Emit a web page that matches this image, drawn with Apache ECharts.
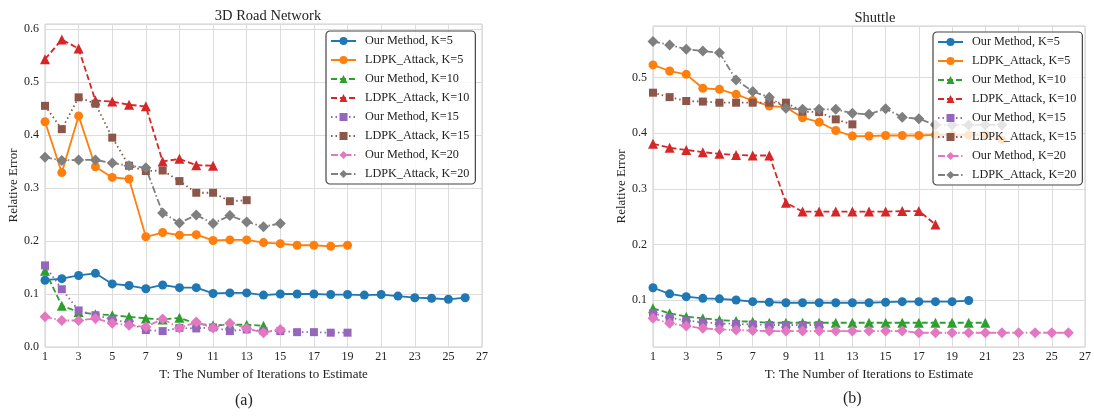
<!DOCTYPE html>
<html><head><meta charset="utf-8">
<script src="https://cdn.jsdelivr.net/npm/echarts@6/dist/echarts.min.js"></script>
<style>html,body{margin:0;padding:0;background:#fff}#c{width:1094px;height:416px}</style>
</head><body><div id="c"></div>
<script>
// ---- data ----
const seriesNames = ['Our Method, K=5','LDPK_Attack, K=5','Our Method, K=10','LDPK_Attack, K=10','Our Method, K=15','LDPK_Attack, K=15','Our Method, K=20','LDPK_Attack, K=20'];
const xTicks = [1,27,2];
// 3D Road Network (values start at T=1)
const roadOurK5  = [0.126,0.129,0.135,0.139,0.119,0.116,0.110,0.117,0.112,0.112,0.101,0.102,0.102,0.098,0.100,0.100,0.100,0.099,0.099,0.098,0.099,0.096,0.093,0.092,0.090,0.093];
const roadLdpkK5 = [0.425,0.329,0.436,0.340,0.320,0.317,0.208,0.216,0.211,0.212,0.201,0.202,0.202,0.197,0.195,0.192,0.192,0.190,0.192];
const roadOurK10 = [0.144,0.078,0.066,0.062,0.060,0.057,0.054,0.052,0.055,0.044,0.041,0.042,0.042,0.040];
const roadLdpkK10= [0.543,0.580,0.563,0.465,0.463,0.457,0.454,0.350,0.355,0.343,0.342];
const roadOurK15 = [0.154,0.109,0.069,0.060,0.052,0.045,0.032,0.030,0.036,0.035,0.037,0.030,0.033,0.030,0.030,0.028,0.028,0.027,0.027];
const roadLdpkK15= [0.455,0.411,0.471,0.459,0.395,0.342,0.332,0.333,0.313,0.291,0.291,0.275,0.277];
const roadOurK20 = [0.057,0.050,0.050,0.054,0.045,0.041,0.038,0.053,0.036,0.047,0.036,0.045,0.035,0.027,0.033];
const roadLdpkK20= [0.358,0.352,0.353,0.353,0.347,0.342,0.338,0.253,0.234,0.249,0.233,0.248,0.236,0.227,0.233];
// Shuttle
const shutOurK5  = [0.122,0.111,0.106,0.103,0.102,0.100,0.097,0.096,0.095,0.095,0.095,0.095,0.095,0.095,0.096,0.097,0.097,0.097,0.097,0.099];
const shutLdpkK5 = [0.523,0.512,0.506,0.481,0.479,0.470,0.459,0.449,0.447,0.428,0.420,0.405,0.395,0.395,0.396,0.396,0.396,0.397,0.397,0.397,0.397,0.388];
const shutOurK10 = [0.085,0.076,0.070,0.067,0.064,0.062,0.061,0.059,0.059,0.059,0.059,0.059,0.059,0.059,0.059,0.059,0.059,0.059,0.059,0.059,0.059];
const shutLdpkK10= [0.381,0.374,0.370,0.366,0.363,0.361,0.360,0.360,0.275,0.259,0.259,0.259,0.259,0.259,0.259,0.260,0.260,0.236];
const shutOurK15 = [0.076,0.068,0.063,0.060,0.058,0.057,0.056,0.055,0.055,0.055,0.055];
const shutLdpkK15= [0.473,0.465,0.458,0.457,0.455,0.455,0.455,0.455,0.455,0.439,0.438,0.425,0.416];
const shutOurK20 = [0.067,0.058,0.053,0.049,0.047,0.046,0.045,0.044,0.044,0.044,0.044,0.044,0.044,0.044,0.044,0.044,0.041,0.041,0.041,0.041,0.041,0.041,0.041,0.041,0.041,0.041];
const shutLdpkK20= [0.565,0.559,0.551,0.548,0.545,0.496,0.475,0.465,0.445,0.443,0.443,0.443,0.436,0.434,0.444,0.429,0.426,0.415,0.415,0.415,0.415,0.415];

const roadData = [roadOurK5,roadLdpkK5,roadOurK10,roadLdpkK10,roadOurK15,roadLdpkK15,roadOurK20,roadLdpkK20];
const shutData = [shutOurK5,shutLdpkK5,shutOurK10,shutLdpkK10,shutOurK15,shutLdpkK15,shutOurK20,shutLdpkK20];

// ---- styles ----
const colors = ['#1f77b4','#ff7f0e','#2ca02c','#d62728','#9467bd','#8c564b','#e377c2','#7f7f7f'];
const symbols = ['circle','circle','triangle','triangle','rect','rect','diamond','diamond'];
const symSizes = [9,9,10,10,8,8,11,11];
const dashes = ['solid','solid',[6,3],[6,3],[1.5,3],[1.5,3],[7,2.5,1.5,2.5],[7,2.5,1.5,2.5]];
const FONT = 'Liberation Serif';

function mkSeries(dataSets, gi){
  return dataSets.map((arr,i)=>({
    name: seriesNames[i], type:'line', xAxisIndex:gi, yAxisIndex:gi,
    data: arr.map((v,k)=>[k+1,v]),
    symbol: symbols[i], symbolSize: symSizes[i], showSymbol:true,
    color: colors[i],
    lineStyle:{color:colors[i], width:1.8, type:dashes[i]},
    itemStyle:{color:colors[i]},
    animation:false, silent:true
  }));
}
function xAx(gi){
  return {type:'value', gridIndex:gi, min:xTicks[0], max:xTicks[1], interval:xTicks[2],
    name:'T: The Number of Iterations to Estimate', nameLocation:'middle', nameGap:21,
    nameTextStyle:{fontFamily:FONT,fontSize:13,color:'#222'},
    axisLine:{show:false}, axisTick:{show:false},
    axisLabel:{fontFamily:FONT,fontSize:12,color:'#222',margin:4},
    splitLine:{show:true,lineStyle:{color:'#dcdcdc',width:1}}};
}
function mkLegend(left, top){
  return {data:seriesNames, orient:'vertical', left:left, top:top, padding:[3,6,3,4],
    itemWidth:25, itemHeight:10, itemGap:5,
    backgroundColor:'rgba(255,255,255,0.8)', borderColor:'#444', borderWidth:1.2, borderRadius:4,
    textStyle:{fontFamily:FONT,fontSize:12.2,color:'#222',lineHeight:14,padding:[0,0,0,4]}, selectedMode:false};
}
const option = {
  backgroundColor:'#fff',
  title:[
    {text:'3D Road Network', left:263, top:4, textAlign:'center', textStyle:{fontFamily:FONT,fontSize:14.5,fontWeight:'normal',color:'#222'}},
    {text:'Shuttle', left:870, top:6, textAlign:'center', textStyle:{fontFamily:FONT,fontSize:14.5,fontWeight:'normal',color:'#222'}}
  ],
  grid:[
    {left:45, top:24, width:437, height:323, show:true, borderColor:'#cfcfcf', borderWidth:1, backgroundColor:'transparent'},
    {left:653, top:26, width:433, height:321, show:true, borderColor:'#cfcfcf', borderWidth:1, backgroundColor:'transparent'}
  ],
  xAxis:[xAx(0), xAx(1)],
  yAxis:[
    {type:'value', gridIndex:0, min:0, max:0.6094, interval:0.1,
     name:'Relative Error', nameLocation:'middle', nameGap:25,
     nameTextStyle:{fontFamily:FONT,fontSize:13,color:'#222'},
     axisLine:{show:false}, axisTick:{show:false},
     axisLabel:{fontFamily:FONT,fontSize:12,color:'#222',margin:6,showMaxLabel:false, formatter:v=>v.toFixed(1)},
     splitLine:{show:true,lineStyle:{color:'#dcdcdc',width:1}}},
    {type:'value', gridIndex:1, min:0.0154, max:0.593, splitNumber:5,
     name:'Relative Error', nameLocation:'middle', nameGap:25,
     nameTextStyle:{fontFamily:FONT,fontSize:13,color:'#222'},
     axisLine:{show:false}, axisTick:{show:false},
     axisLabel:{fontFamily:FONT,fontSize:12,color:'#222',margin:6,showMinLabel:false,showMaxLabel:false, formatter:v=>v.toFixed(1)},
     splitLine:{show:true,lineStyle:{color:'#dcdcdc',width:1}}}
  ],
  legend:[mkLegend(326,31), mkLegend(933,32)],
  graphic:[
    {type:'text', left:235, top:393, style:{text:'(a)', fontFamily:FONT, fontSize:16, fill:'#222'}},
    {type:'text', left:843, top:391, style:{text:'(b)', fontFamily:FONT, fontSize:16, fill:'#222'}}
  ],
  series: mkSeries(roadData,0).concat(mkSeries(shutData,1))
};
const chart = echarts.init(document.getElementById('c'), null, {renderer:'canvas'});
chart.setOption(option);
</script></body></html>
